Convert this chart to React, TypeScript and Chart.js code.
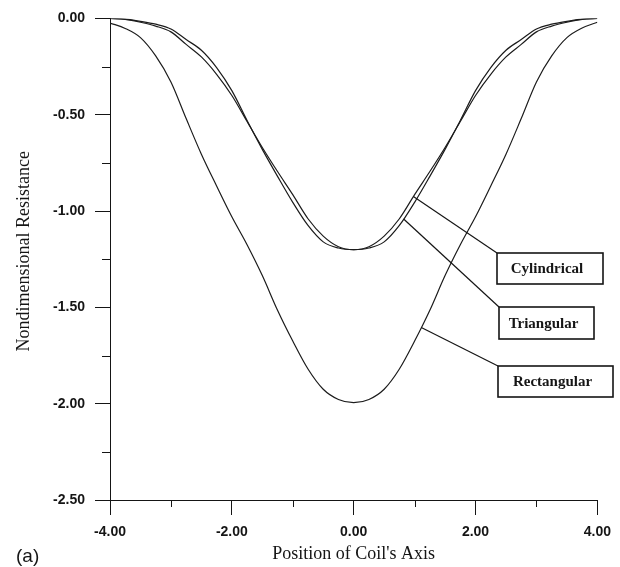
import { useEffect, useRef } from "react";
import { Chart, registerables } from "chart.js";

Chart.register(...registerables);

// ---------------- data ----------------
const positions = [
  -4.0, -3.75, -3.5, -3.25, -3.0, -2.75, -2.5, -2.25, -2.0, -1.75, -1.5, -1.25, -1.0, -0.75, -0.5, -0.25,
  0.0, 0.25, 0.5, 0.75, 1.0, 1.25, 1.5, 1.75, 2.0, 2.25, 2.5, 2.75, 3.0, 3.25, 3.5, 3.75, 4.0,
];

const cylindrical = [
  0.0, -0.005, -0.02, -0.04, -0.07, -0.135, -0.2, -0.29, -0.4, -0.535, -0.67, -0.795, -0.915, -1.04, -1.13, -1.185,
  -1.2, -1.185, -1.13, -1.04, -0.915, -0.795, -0.67, -0.535, -0.4, -0.29, -0.2, -0.135, -0.07, -0.04, -0.02, -0.005, 0.0,
];

const triangular = [
  0.0, -0.004, -0.015, -0.03, -0.055, -0.11, -0.165, -0.255, -0.375, -0.53, -0.68, -0.82, -0.955, -1.075, -1.16, -1.192,
  -1.2, -1.192, -1.16, -1.075, -0.955, -0.82, -0.68, -0.53, -0.375, -0.255, -0.165, -0.11, -0.055, -0.03, -0.015, -0.004, 0.0,
];

const rectangular = [
  -0.024, -0.052, -0.1, -0.195, -0.33, -0.52, -0.705, -0.87, -1.03, -1.175, -1.335, -1.515, -1.675, -1.82, -1.925, -1.978,
  -1.995, -1.978, -1.925, -1.82, -1.675, -1.515, -1.335, -1.175, -1.03, -0.87, -0.705, -0.52, -0.33, -0.195, -0.1, -0.05, -0.02,
];

const seriesNames = ["Cylindrical", "Triangular", "Rectangular"];
const seriesValues = [cylindrical, triangular, rectangular];
// x position (data units) where each callout leader touches its curve
const calloutAnchorX = [0.98, 0.82, 1.11];

const xMin = -4;
const xMax = 4;
const yMin = -2.5;
const yMax = 0;
const xMajorStep = 2;
const xMinorStep = 1;
const yMajorStep = 0.5;
const yMinorStep = 0.25;

const xTitle = "Position of Coil's Axis";
const yTitle = "Nondimensional Resistance";
const panelLabel = "(a)";

// ---------------- layout / style ----------------
const W = 620;
const H = 567;
const INK = "#151515";
const calloutBoxes = [
  { left: 497, top: 253, width: 106, height: 31 },
  { left: 499, top: 307, width: 95, height: 32 },
  { left: 498, top: 366, width: 115, height: 31 },
];

const isMultiple = (v: number, step: number) => Math.abs(v / step - Math.round(v / step)) < 1e-6;

function interpAt(xs: number[], ys: number[], x: number) {
  for (let i = 0; i < xs.length - 1; i++) {
    if (x >= xs[i] && x <= xs[i + 1]) {
      const t = (x - xs[i]) / (xs[i + 1] - xs[i]);
      return ys[i] + t * (ys[i + 1] - ys[i]);
    }
  }
  return ys[ys.length - 1];
}

const overlayPlugin = {
  id: "overlay",
  afterDraw(chart: any) {
    const { ctx, chartArea, scales } = chart;
    const xs = scales.x;
    const ys = scales.y;
    ctx.save();
    ctx.strokeStyle = INK;
    ctx.lineWidth = 1;
    // minor ticks
    ctx.beginPath();
    for (let v = xMin; v <= xMax + 1e-9; v += xMinorStep) {
      if (isMultiple(v, xMajorStep)) continue;
      const px = Math.round(xs.getPixelForValue(v)) + 0.5;
      ctx.moveTo(px, chartArea.bottom);
      ctx.lineTo(px, chartArea.bottom + 7);
    }
    for (let v = yMin; v <= yMax + 1e-9; v += yMinorStep) {
      if (isMultiple(v, yMajorStep)) continue;
      const py = Math.round(ys.getPixelForValue(v)) + 0.5;
      ctx.moveTo(chartArea.left - 8, py);
      ctx.lineTo(chartArea.left, py);
    }
    ctx.stroke();

    // y title
    ctx.save();
    ctx.translate(24, (chartArea.top + chartArea.bottom) / 2 - 8);
    ctx.rotate(-Math.PI / 2);
    ctx.fillStyle = INK;
    ctx.font = "18px 'Liberation Serif', 'Times New Roman', serif";
    ctx.textAlign = "center";
    ctx.textBaseline = "middle";
    ctx.fillText(yTitle, 0, 0);
    ctx.restore();

    // panel label
    ctx.fillStyle = INK;
    ctx.font = "19px 'Liberation Sans', Arial, sans-serif";
    ctx.textAlign = "left";
    ctx.textBaseline = "middle";
    ctx.fillText(panelLabel, 16, 557);

    // callouts
    seriesNames.forEach((name, i) => {
      const b = calloutBoxes[i];
      const ax = calloutAnchorX[i];
      const ay = interpAt(positions, seriesValues[i], ax);
      const px = xs.getPixelForValue(ax);
      const py = ys.getPixelForValue(ay);
      ctx.strokeStyle = INK;
      ctx.lineWidth = 1.2;
      ctx.beginPath();
      ctx.moveTo(px, py);
      ctx.lineTo(b.left, b.top);
      ctx.stroke();
      ctx.fillStyle = "#fff";
      ctx.fillRect(b.left, b.top, b.width, b.height);
      ctx.lineWidth = 1.6;
      ctx.strokeRect(b.left, b.top, b.width, b.height);
      ctx.fillStyle = INK;
      ctx.font = "bold 15px 'Liberation Serif', 'Times New Roman', serif";
      ctx.textAlign = "center";
      ctx.textBaseline = "middle";
      ctx.fillText(name, b.left + b.width / 2 - 3, b.top + b.height / 2 + 1);
    });
    ctx.restore();
  },
};

export default function App() {
  const canvasRef = useRef<HTMLCanvasElement | null>(null);

  useEffect(() => {
    const canvas = canvasRef.current;
    if (!canvas) return;
    const tickFont = { family: "'Liberation Sans', Arial, sans-serif", size: 14, weight: "bold" as const };
    const chart = new Chart(canvas, {
      type: "line",
      data: {
        datasets: seriesNames.map((name, i) => ({
          label: name,
          data: positions.map((x, j) => ({ x, y: seriesValues[i][j] })),
          borderColor: "#1c1c1c",
          borderWidth: 1.2,
          pointRadius: 0,
          fill: false,
          cubicInterpolationMode: "monotone" as const,
        })),
      },
      options: {
        responsive: false,
        animation: false,
        events: [],
        layout: { padding: { left: 0, top: 16, right: 20, bottom: 0 } },
        plugins: { legend: { display: false }, tooltip: { enabled: false }, title: { display: false } },
        scales: {
          x: {
            type: "linear",
            min: xMin,
            max: xMax,
            afterFit: (s: any) => {
              s.height = 67;
            },
            border: { display: true, color: INK, width: 1 },
            grid: {
              drawOnChartArea: false,
              drawTicks: true,
              tickLength: 15,
              lineWidth: 1,
              color: (c: any) => (c.tick && isMultiple(c.tick.value, xMajorStep) ? INK : "rgba(0,0,0,0)"),
            },
            ticks: {
              stepSize: xMinorStep,
              autoSkip: false,
              maxRotation: 0,
              minRotation: 0,
              padding: 9,
              color: INK,
              font: tickFont,
              callback: (v: any) => (isMultiple(Number(v), xMajorStep) ? Number(v).toFixed(2) : ""),
            },
            title: {
              display: true,
              text: xTitle,
              color: INK,
              font: { family: "'Liberation Serif', 'Times New Roman', serif", size: 18, lineHeight: 1 },
              padding: { top: 0, bottom: 4 },
            },
          },
          y: {
            type: "linear",
            min: yMin,
            max: yMax,
            afterFit: (s: any) => {
              s.width = 110;
            },
            border: { display: true, color: INK, width: 1 },
            grid: {
              drawOnChartArea: false,
              drawTicks: true,
              tickLength: 15,
              lineWidth: 1,
              color: (c: any) => (c.tick && isMultiple(c.tick.value, yMajorStep) ? INK : "rgba(0,0,0,0)"),
            },
            ticks: {
              stepSize: yMinorStep,
              autoSkip: false,
              padding: 10,
              color: INK,
              font: tickFont,
              callback: (v: any) => (isMultiple(Number(v), yMajorStep) ? Number(v).toFixed(2) : ""),
            },
          },
        },
      },
      plugins: [overlayPlugin],
    });
    return () => chart.destroy();
  }, []);

  return (
    <div style={{ position: "absolute", left: 0, top: 0, width: W, height: H, background: "#fff" }}>
      <canvas ref={canvasRef} width={W} height={H} style={{ display: "block" }} />
    </div>
  );
}
